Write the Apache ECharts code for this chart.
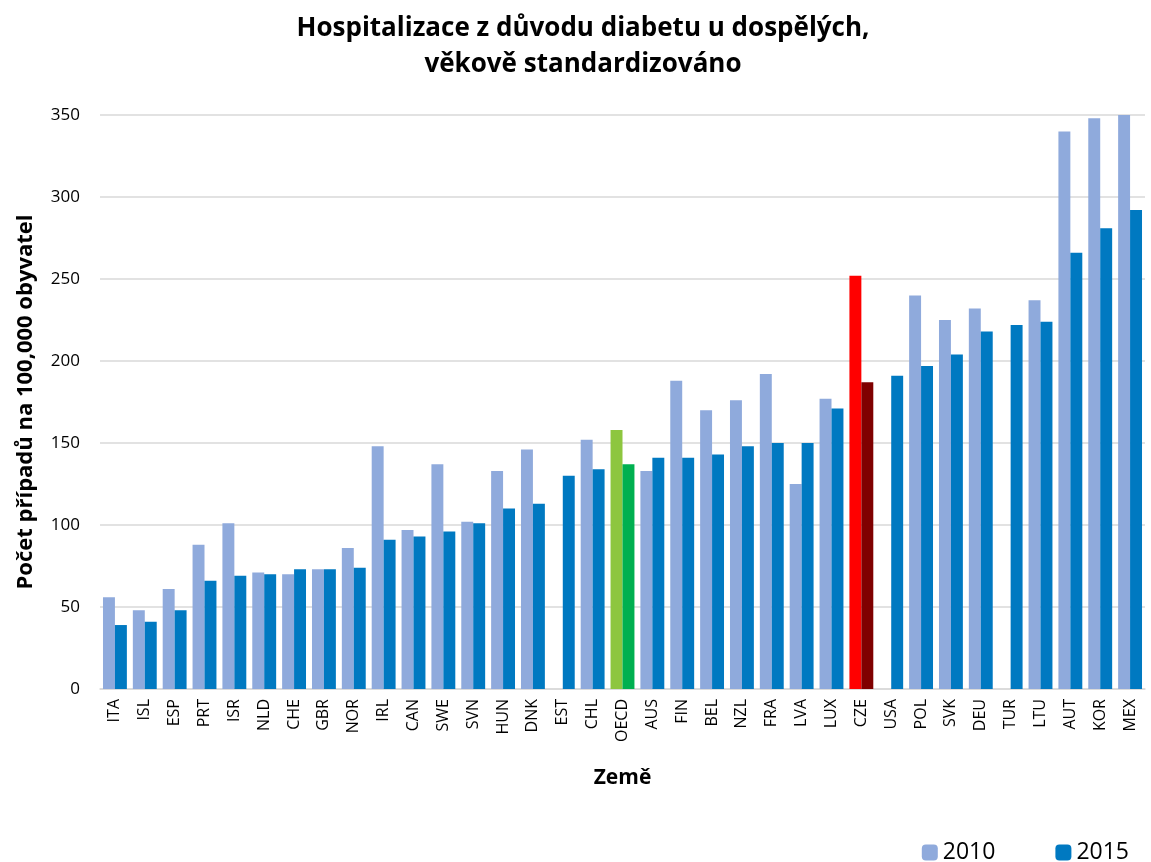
<!DOCTYPE html>
<html>
<head>
<meta charset="utf-8">
<script src="https://cdn.jsdelivr.net/npm/echarts@6/dist/echarts.min.js"></script>
<style>
  html, body { margin: 0; padding: 0; background: #fff; }
  #chart { width: 1151px; height: 862px; }
</style>
</head>
<body>
<div id="chart"></div>
<script>
// countries, sorted as in the source
var countries = ['ITA', 'ISL', 'ESP', 'PRT', 'ISR', 'NLD', 'CHE', 'GBR', 'NOR', 'IRL',
    'CAN', 'SWE', 'SVN', 'HUN', 'DNK', 'EST', 'CHL', 'OECD', 'AUS', 'FIN',
    'BEL', 'NZL', 'FRA', 'LVA', 'LUX', 'CZE', 'USA', 'POL', 'SVK', 'DEU',
    'TUR', 'LTU', 'AUT', 'KOR', 'MEX'];

// hospitalisations per 100,000 (null = no data)
var values2010 = [56, 48, 61, 88, 101, 71, 70, 73, 86, 148,
    97, 137, 102, 133, 146, null, 152, 158, 133, 188,
    170, 176, 192, 125, 177, 252, null, 240, 225, 232,
    null, 237, 340, 348, 350];
var values2015 = [39, 41, 48, 66, 69, 70, 73, 73, 74, 91,
    93, 96, 101, 110, 113, 130, 134, 137, 141, 141,
    143, 148, 150, 150, 171, 187, 191, 197, 204, 218,
    222, 224, 266, 281, 292];

var yTicks = [0, 50, 100, 150, 200, 250, 300, 350];

var color2010 = '#8FAADC';
var color2015 = '#0079C1';
// highlighted bars
var special = {
    'OECD': ['#8DC63F', '#00B050'],
    'CZE': ['#FF0000', '#7F0000']
};

function build(vals, k, base) {
    return vals.map(function (v, i) {
        var c = special[countries[i]];
        return { value: v, itemStyle: { color: c ? c[k] : base } };
    });
}

var font = 'Open Sans';
var chart = echarts.init(document.getElementById('chart'));

option = {
    animation: false,
    textStyle: { fontFamily: font },
    title: {
        text: 'Hospitalizace z důvodu diabetu u dospělých,\nvěkově standardizováno',
        left: 578,
        textAlign: 'center',
        top: 6,
        textStyle: { fontSize: 26, fontWeight: 'bold', lineHeight: 36, color: '#000', fontFamily: font }
    },
    legend: {
        right: 17,
        top: 836,
        itemWidth: 16,
        itemHeight: 16,
        itemGap: 60,
        textStyle: { fontSize: 23, color: '#000', fontFamily: font },
        data: [
            { name: '2010', itemStyle: { color: color2010 } },
            { name: '2015', itemStyle: { color: color2015 } }
        ]
    },
    grid: { left: 100, right: 6, top: 115, bottom: 173 },
    xAxis: {
        type: 'category',
        data: countries,
        name: 'Země',
        nameLocation: 'middle',
        nameGap: 79,
        nameTextStyle: { fontSize: 21, fontWeight: 'bold', color: '#000', fontFamily: font },
        axisTick: { show: false },
        axisLine: { lineStyle: { color: '#d9d9d9', width: 1.5 } },
        axisLabel: { rotate: 90, fontSize: 16, color: '#000', margin: 10, interval: 0 }
    },
    yAxis: {
        type: 'value',
        min: 0,
        max: 350,
        interval: 50,
        name: 'Počet případů na 100,000 obyvatel',
        nameLocation: 'middle',
        nameGap: 63,
        nameTextStyle: { fontSize: 22, fontWeight: 'bold', color: '#000', fontFamily: font },
        axisLabel: {
            fontSize: 17, color: '#000', margin: 20,
            formatter: function (v) { return yTicks.indexOf(v) >= 0 ? String(v) : ''; }
        },
        splitLine: { lineStyle: { color: '#d9d9d9', width: 1.5 } }
    },
    series: [{
        name: '2010',
        type: 'bar',
        barGap: '0%',
        barCategoryGap: '20%',
        itemStyle: { color: color2010 },
        data: build(values2010, 0, color2010)
    }, {
        name: '2015',
        type: 'bar',
        itemStyle: { color: color2015 },
        data: build(values2015, 1, color2015)
    }]
};

chart.setOption(option);
</script>
</body>
</html>
